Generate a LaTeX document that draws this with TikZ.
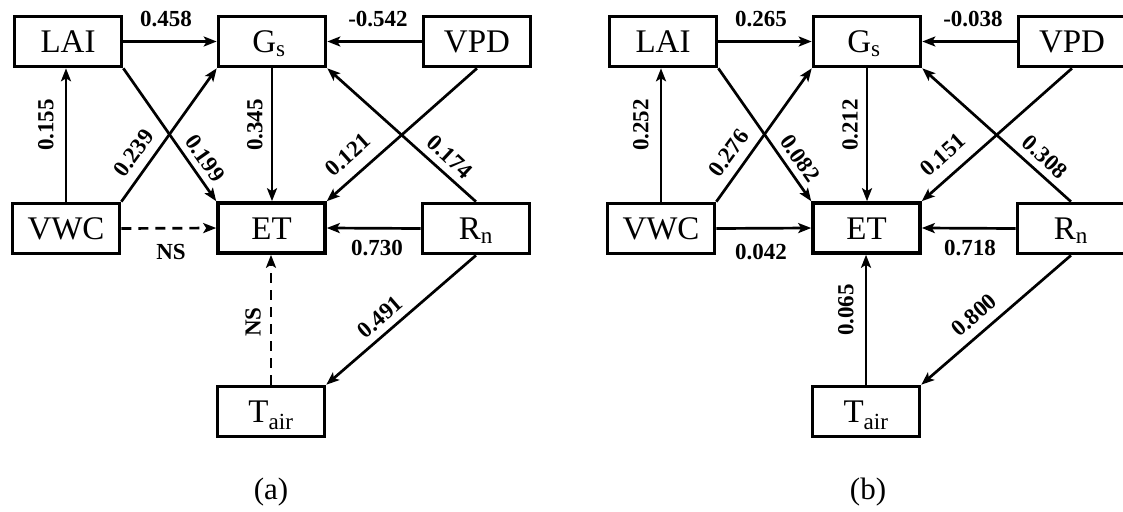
\documentclass[tikz,border=0pt]{standalone}
\usepackage{fontspec}
\setmainfont{Liberation Serif}
\usetikzlibrary{arrows.meta}
\tikzset{
  box/.style={draw, line width=3.6pt, minimum width=107pt, minimum height=50pt,
    inner sep=0pt, text height=22pt, text depth=0pt, font=\fontsize{33}{36}\selectfont},
  arr/.style={line width=2.7pt, -{Stealth[length=13pt,width=10pt,inset=3pt]}},
  nsarr/.style={arr, dash pattern=on 10pt off 7pt},
  lbl/.style={font=\fontsize{23}{26}\selectfont\bfseries, inner sep=0pt},
  capt/.style={font=\fontsize{31}{34}\selectfont, inner sep=0pt}
}
\begin{document}
\begin{tikzpicture}[x=1pt,y=-1pt]
\useasboundingbox (0,0) rectangle (1123,511);
\clip (0,0) rectangle (1123,511);
% ---------- panel (a)
\node[box] (aLAI) at (68,41.5) {LAI};
\node[box] (aGs)  at (272,41.5) {G\textsubscript{s}\kern6pt};
\node[box] (aVPD) at (477,41.5) {VPD};
\node[box] (aVWC) at (66,228.5) {VWC};
\node[box] (aET)  at (271.5,228) {ET};
\node[box] (aRn)  at (476,228.5) {R\textsubscript{n}};
\node[box] (aT)   at (271,411.5) {T\textsubscript{air}};
\draw[arr] (aLAI.east) -- (aGs.west);
\draw[arr] (aVPD.west) -- (aGs.east);
\draw[arr] (aVWC.north) -- (aVWC.north |- aLAI.south);
\draw[arr] (aVWC.north east) -- (aGs.south west);
\draw[arr] (aLAI.south east) -- (aET.north west);
\draw[arr] (aGs.south) -- (aGs.south |- aET.north);
\draw[arr] (aVPD.south) -- (aET.north east);
\draw[arr] (aRn.north) -- (aGs.south east);
\draw[arr] (aRn.west) -- (aET.east);
\draw[nsarr] (aVWC.east) -- (aET.west);
\draw[nsarr] (aT.north) -- (aT.north |- aET.south);
\draw[arr] (aRn.south) -- (aT.north east);
\node[lbl] (la1) at (166,19) {0.458};
\node[lbl] (la2) at (378,19) {-0.542};
\node[lbl, rotate=90] (la3) at (46,125) {0.155};
\node[lbl, rotate=54] (la4) at (134,153) {0.239};
\node[lbl, rotate=-55] (la5) at (205,158) {0.199};
\node[lbl, rotate=90] (la6) at (255,125) {0.345};
\node[lbl, rotate=42] (la7) at (348,155) {0.121};
\node[lbl, rotate=-43] (la8) at (450,157) {0.174};
\node[lbl] (la9) at (377,248) {0.730};
\node[lbl] (la10) at (171,252) {NS};
\node[lbl, rotate=90] (la11) at (253,322) {NS};
\node[lbl, rotate=41] (la12) at (380,317) {0.491};
\node[capt] (capa) at (271,492) {(a)};
% ---------- panel (b)
\node[box] (bLAI) at (663,41.5) {LAI};
\node[box] (bGs)  at (867,41.5) {G\textsubscript{s}\kern6pt};
\node[box] (bVPD) at (1072,41.5) {VPD};
\node[box] (bVWC) at (661,228.5) {VWC};
\node[box] (bET)  at (866.5,228) {ET};
\node[box] (bRn)  at (1071,228.5) {R\textsubscript{n}};
\node[box] (bT)   at (866,411.5) {T\textsubscript{air}};
\draw[arr] (bLAI.east) -- (bGs.west);
\draw[arr] (bVPD.west) -- (bGs.east);
\draw[arr] (bVWC.north) -- (bVWC.north |- bLAI.south);
\draw[arr] (bVWC.north east) -- (bGs.south west);
\draw[arr] (bLAI.south east) -- (bET.north west);
\draw[arr] (bGs.south) -- (bGs.south |- bET.north);
\draw[arr] (bVPD.south) -- (bET.north east);
\draw[arr] (bRn.north) -- (bGs.south east);
\draw[arr] (bRn.west) -- (bET.east);
\draw[arr] (bVWC.east) -- (bET.west);
\draw[arr] (bT.north) -- (bT.north |- bET.south);
\draw[arr] (bRn.south) -- (bT.north east);
\node[lbl] (lb1) at (761,19) {0.265};
\node[lbl] (lb2) at (973,19) {-0.038};
\node[lbl, rotate=90] (lb3) at (641,125) {0.252};
\node[lbl, rotate=54] (lb4) at (729,153) {0.276};
\node[lbl, rotate=-55] (lb5) at (800,158) {0.082};
\node[lbl, rotate=90] (lb6) at (850,125) {0.212};
\node[lbl, rotate=42] (lb7) at (943,155) {0.151};
\node[lbl, rotate=-43] (lb8) at (1045,157) {0.308};
\node[lbl] (lb9) at (970,248) {0.718};
\node[lbl] (lb10) at (761,252) {0.042};
\node[lbl, rotate=90] (lb11) at (846,310) {0.065};
\node[lbl, rotate=41] (lb12) at (974,315) {0.800};
\node[capt] (capb) at (868,492) {(b)};
\end{tikzpicture}
\end{document}
